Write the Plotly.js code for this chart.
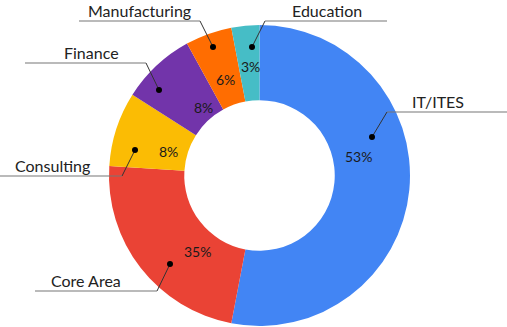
<!DOCTYPE html>
<html>
<head>
<meta charset="utf-8">
<script src="https://cdn.plot.ly/plotly-3.0.1.min.js"></script>
<style>html,body{margin:0;padding:0;background:#fff;}#chart{width:507px;height:327px;}</style>
</head>
<body>
<div id="chart"></div>
<script>
// ---- data ----
var categories = ["IT/ITES", "Core Area", "Consulting", "Finance", "Manufacturing", "Education"];
var sliceValues = [53, 23, 8, 8, 5, 3];
var percentLabels = ["53%", "35%", "8%", "8%", "6%", "3%"];
var sliceColors = ["#4285F4", "#EA4335", "#FBBC04", "#7234AA", "#FF6D01", "#46BDC6"];

// ---- label / callout layout (pixel positions on the 507x327 canvas) ----
var W = 507, H = 327;
var callouts = {
  "IT/ITES":       {pct: [358, 157], dot: [372, 137], elbow: [387, 112], lineEnd: 507, label: [438, 112]},
  "Core Area":     {pct: [197, 251], dot: [170, 264], elbow: [157, 291], lineEnd: 35,  label: [86, 291]},
  "Consulting":    {pct: [168, 151], dot: [135, 150], elbow: [122, 176], lineEnd: 0,   label: [52, 176]},
  "Finance":       {pct: [203, 107], dot: [159, 90],  elbow: [146, 63],  lineEnd: 25,  label: [91, 63]},
  "Manufacturing": {pct: [225, 80],  dot: [213, 47],  elbow: [200, 21],  lineEnd: 79,  label: [139, 21]},
  "Education":     {pct: [250, 66],  dot: [252, 47],  elbow: [265, 21],  lineEnd: 387, label: [327, 21]}
};
function px(x) { return x / W; }
function py(y) { return 1 - y / H; }

var FONT = "Lato, 'Noto Sans', sans-serif";
var shapes = [], annotations = [];
categories.forEach(function (c, i) {
  var o = callouts[c];
  shapes.push({type: "line", xref: "paper", yref: "paper", layer: "above",
    x0: px(o.dot[0]), y0: py(o.dot[1]), x1: px(o.elbow[0]), y1: py(o.elbow[1]),
    line: {color: "#333333", width: 1}});
  shapes.push({type: "line", xref: "paper", yref: "paper", layer: "above",
    x0: px(o.elbow[0]), y0: py(o.elbow[1]), x1: px(o.lineEnd), y1: py(o.elbow[1]),
    line: {color: "#777777", width: 1.2}});
  var r = 3;
  shapes.push({type: "circle", xref: "paper", yref: "paper", layer: "above",
    x0: px(o.dot[0] - r), x1: px(o.dot[0] + r), y0: py(o.dot[1] + r), y1: py(o.dot[1] - r),
    fillcolor: "#000000", line: {color: "#000000", width: 0}});
  annotations.push({xref: "paper", yref: "paper", x: px(o.label[0]), y: py(o.label[1] - 10.5),
    xanchor: "center", yanchor: "middle", showarrow: false, text: c, borderpad: 0,
    font: {family: FONT, size: 16, color: "#222222"}});
  annotations.push({xref: "paper", yref: "paper", x: px(o.pct[0]), y: py(o.pct[1]),
    xanchor: "center", yanchor: "middle", showarrow: false, text: percentLabels[i],
    font: {family: FONT, size: 14, color: "#1a1a1a"}});
});

// pie geometry: centre (259.5, 175.5), radius 150.5 px
var cx = 259.5, cy = 175.5, R = 150.5;
var trace = {
  type: "pie",
  labels: categories,
  values: sliceValues,
  textinfo: "none",
  hole: 0.5,
  sort: false,
  direction: "clockwise",
  rotation: 0,
  marker: {colors: sliceColors, line: {width: 0}},
  showlegend: false,
  hoverinfo: "none",
  domain: {x: [px(cx - R), px(cx + R)], y: [py(cy + R), py(cy - R)]}
};

var layout = {
  width: W, height: H,
  margin: {l: 0, r: 0, t: 0, b: 0},
  paper_bgcolor: "#ffffff",
  showlegend: false,
  shapes: shapes,
  annotations: annotations
};

Plotly.newPlot("chart", [trace], layout, {staticPlot: true, displayModeBar: false});
</script>
</body>
</html>
